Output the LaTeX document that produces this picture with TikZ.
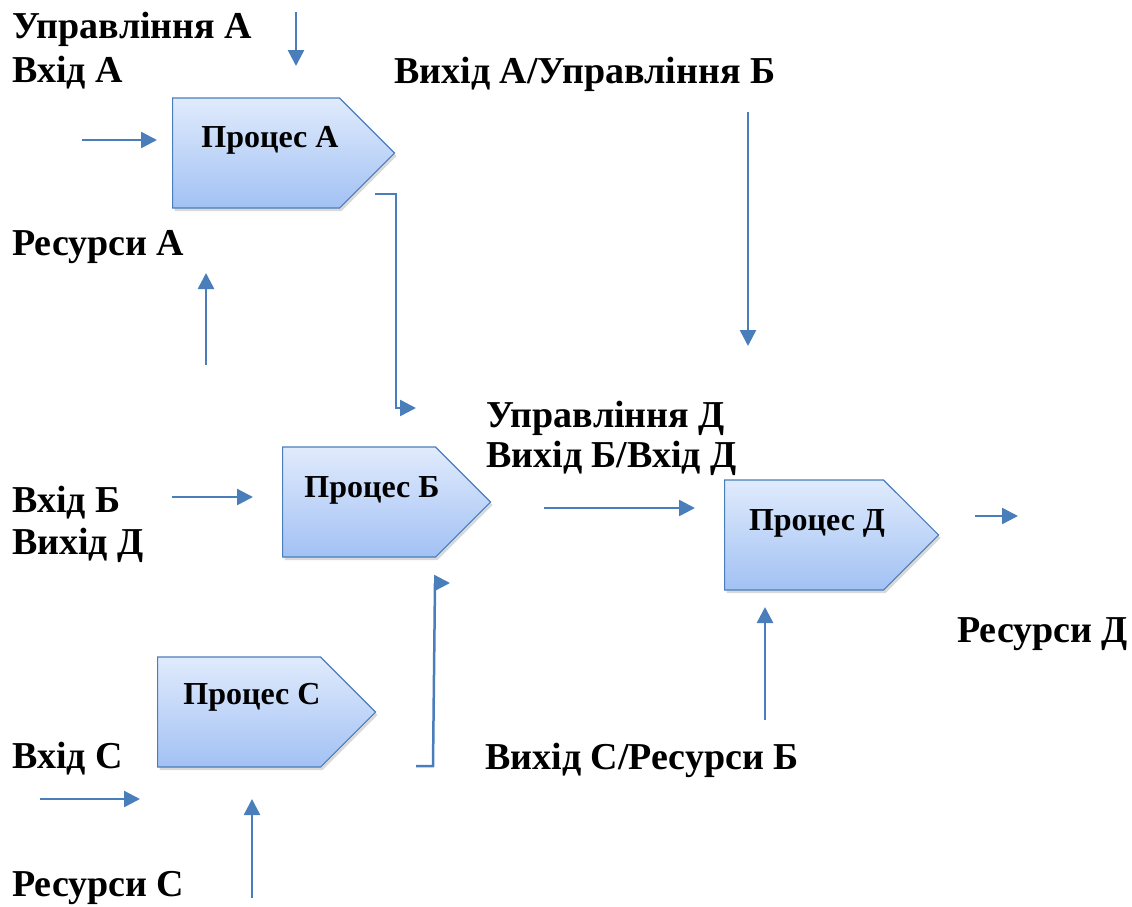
\documentclass[tikz,border=0pt]{standalone}
\usepackage{fontspec}
\setmainfont{Liberation Serif}
\usetikzlibrary{shapes.symbols, arrows.meta, shadows}

\definecolor{flowblue}{RGB}{74,126,187}
\definecolor{proctop}{RGB}{224,235,252}
\definecolor{procbot}{RGB}{162,193,244}

\begin{document}
\begin{tikzpicture}[x=1pt, y=-1pt,
    proc/.style={signal, signal to=east, signal pointer angle=90, anchor=west,
      draw=flowblue, line width=1.2pt, top color=proctop, bottom color=procbot,
      minimum height=110pt, inner sep=0pt,
      drop shadow={opacity=0.3, shadow xshift=2pt, shadow yshift=-3pt}},
    ptext/.style={inner sep=0pt, font=\fontsize{32}{36}\selectfont\bfseries},
    lbl/.style={anchor=base west, inner sep=0pt, font=\fontsize{38}{44}\selectfont\bfseries},
    flow/.style={draw=flowblue, line width=2.5pt, ->},
    >={Triangle[length=16pt,width=16pt]}]

  \useasboundingbox (0,0) rectangle (1132,906);

  % processes
  \node[proc, minimum width=222pt] (pA) at (172,153) {};
  \node[ptext] (tA) at ([xshift=98pt,yshift=13pt]pA.west) {Процес А};
  \node[proc, minimum width=208pt] (pB) at (282,502) {};
  \node[ptext] (tB) at ([xshift=90pt,yshift=12pt]pB.west) {Процес Б};
  \node[proc, minimum width=218pt] (pC) at (157,712) {};
  \node[ptext] (tC) at ([xshift=95pt,yshift=15pt]pC.west) {Процес С};
  \node[proc, minimum width=214pt] (pD) at (724,535) {};
  \node[ptext] (tD) at ([xshift=93pt,yshift=12pt]pD.west) {Процес Д};

  % labels
  \node[lbl] (lCtlA) at (12,38) {Управління А};
  \node[lbl] (lInA) at (12,82) {Вхід А};
  \node[lbl] (lOutA) at (394,83) {Вихід А/Управління Б};
  \node[lbl] (lResA) at (12,255) {Ресурси А};
  \node[lbl] (lCtlD) at (486,427) {Управління Д};
  \node[lbl] (lOutB) at (486,467) {Вихід Б/Вхід Д};
  \node[lbl] (lInB) at (12,512) {Вхід Б};
  \node[lbl] (lOutD) at (12,554) {Вихід Д};
  \node[lbl] (lResD) at (957,642) {Ресурси Д};
  \node[lbl] (lInC) at (12,768) {Вхід С};
  \node[lbl] (lOutC) at (485,769) {Вихід С/Ресурси Б};
  \node[lbl] (lResC) at (12,896) {Ресурси С};

  % arrow ends
  \coordinate (ctlA1) at (296,12);  \coordinate (ctlA2) at (296,66);
  \coordinate (inA1) at (82,140);   \coordinate (inA2) at (157,140);
  \coordinate (resA1) at (206,365); \coordinate (resA2) at (206,273);
  \coordinate (ab1) at (375,194);   \coordinate (ab2) at (396,194);
  \coordinate (ab3) at (396,408);   \coordinate (ab4) at (416,408);
  \coordinate (ctlB1) at (748,112); \coordinate (ctlB2) at (748,346);
  \coordinate (inB1) at (172,497);  \coordinate (inB2) at (253,497);
  \coordinate (bd1) at (544,508);   \coordinate (bd2) at (695,508);
  \coordinate (outD1) at (975,516); \coordinate (outD2) at (1018,516);
  \coordinate (resD1) at (765,720); \coordinate (resD2) at (765,607);
  \coordinate (inC1) at (40,799);   \coordinate (inC2) at (140,799);
  \coordinate (resC1) at (252,898); \coordinate (resC2) at (252,799);
  \coordinate (cb1) at (416,766);   \coordinate (cb2) at (433,766);
  \coordinate (cb3) at (435,583);   \coordinate (cb4) at (450,583);

  % arrows
  \draw[flow] (ctlA1) -- (ctlA2);
  \draw[flow] (inA1) -- (inA2);
  \draw[flow] (resA1) -- (resA2);
  \draw[flow] (ab1) -- (ab2) -- (ab3) -- (ab4);
  \draw[flow] (ctlB1) -- (ctlB2);
  \draw[flow] (inB1) -- (inB2);
  \draw[flow] (bd1) -- (bd2);
  \draw[flow] (outD1) -- (outD2);
  \draw[flow] (resD1) -- (resD2);
  \draw[flow] (inC1) -- (inC2);
  \draw[flow] (resC1) -- (resC2);
  \draw[flow] (cb1) -- (cb2) -- (cb3) -- (cb4);
\end{tikzpicture}
\end{document}
